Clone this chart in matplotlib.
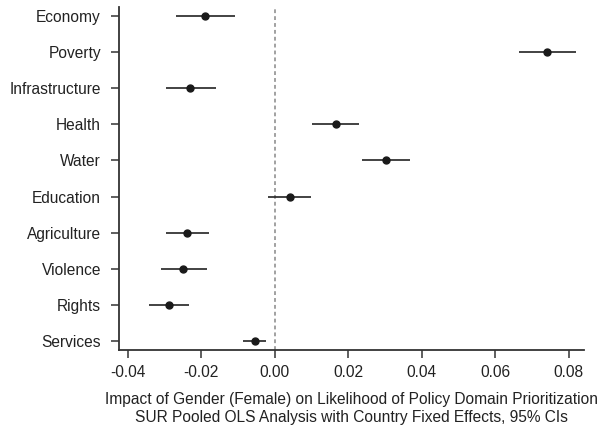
import matplotlib
matplotlib.use("Agg")
import matplotlib.pyplot as plt
import numpy as np

plt.rcParams['font.family'] = ['Liberation Sans', 'DejaVu Sans']

categories = ["Economy", "Poverty", "Infrastructure", "Health", "Water",
              "Education", "Agriculture", "Violence", "Rights", "Services"]
estimates = [-0.0189, 0.0740, -0.0230, 0.0165, 0.0302,
             0.0040, -0.0239, -0.0249, -0.0288, -0.0055]
ci_low = [-0.0269, 0.0664, -0.0297, 0.0101, 0.0238,
          -0.0018, -0.0297, -0.0310, -0.0342, -0.0086]
ci_high = [-0.0108, 0.0818, -0.0161, 0.0229, 0.0367,
           0.0098, -0.0180, -0.0185, -0.0234, -0.0025]
xticks = [-0.04, -0.02, 0.00, 0.02, 0.04, 0.06, 0.08]
xticklabels = ["-0.04", "-0.02", "0.00", "0.02", "0.04", "0.06", "0.08"]
xlabel = ("Impact of Gender (Female) on Likelihood of Policy Domain Prioritization\n"
          "SUR Pooled OLS Analysis with Country Fixed Effects, 95% CIs")

fig = plt.figure(figsize=(6.04, 4.28), dpi=100)
ax = fig.add_axes([119/604, 1-350/428, (584-119)/604, (350-7)/428])

n = len(categories)
ypos = np.arange(n, 0, -1)

ax.axvline(0, color='#888888', linestyle=(0, (2.5, 2)), linewidth=1.1, zorder=1)
ax.hlines(ypos, ci_low, ci_high, color='#222222', linewidth=1.2, zorder=2)
ax.plot(estimates, ypos, 'o', color='#1a1a1a', markersize=5, zorder=3)

ax.set_xlim(-0.0424, 0.0841)
ax.set_ylim(0.75, 10.25)
ax.set_yticks(ypos)
ax.set_yticklabels(categories)
ax.set_xticks(xticks)
ax.set_xticklabels(xticklabels)

for s in ['top', 'right']:
    ax.spines[s].set_visible(False)
for s in ['left', 'bottom']:
    ax.spines[s].set_color('#333333')
    ax.spines[s].set_linewidth(1.3)

ax.tick_params(axis='both', colors='#333333', labelcolor='#222222',
               length=6, width=1.1, labelsize=11.2)
ax.tick_params(axis='y', pad=7)
ax.tick_params(axis='x', pad=4.5)

ax.set_xlabel(xlabel, fontsize=11.2, color='#222222', labelpad=9, linespacing=1.25)

fig.savefig("out.png", dpi=100)
